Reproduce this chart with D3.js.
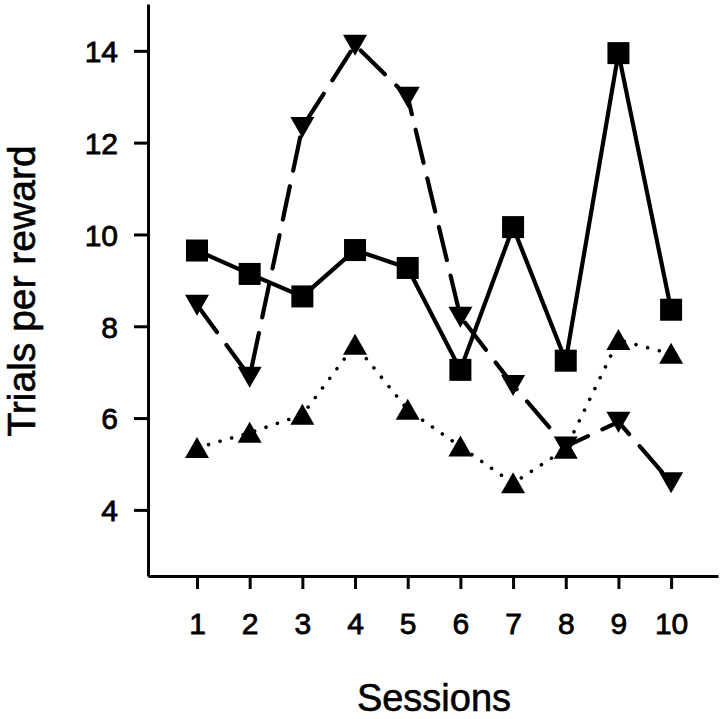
<!DOCTYPE html>
<html>
<head>
<meta charset="utf-8">
<script src="https://cdn.jsdelivr.net/npm/d3@7"></script>
<style>
  html, body { margin: 0; padding: 0; background: #fff; }
  svg { display: block; }
  text { font-family: "Liberation Sans", Arial, Helvetica, sans-serif; fill: #000; }
</style>
</head>
<body>
<svg id="chart" width="720" height="719"></svg>
<script>
const sessions = [1, 2, 3, 4, 5, 6, 7, 8, 9, 10];
const squareSeries = [9.65, 9.14, 8.65, 9.66, 9.27, 7.05, 10.16, 7.25, 13.95, 8.36];
const downTriangleSeries = [8.47, 6.9, 12.34, 14.13, 13.0, 8.21, 6.72, 5.38, 5.92, 4.6];
const upTriangleSeries = [5.35, 5.68, 6.07, 7.6, 6.18, 5.38, 4.58, 5.33, 7.7, 7.4];
const yTicks = [4, 6, 8, 10, 12, 14];
const xTicks = sessions;
const xLabel = "Sessions";
const yLabel = "Trials per reward";

const svg = d3.select("#chart");
const x = d3.scaleLinear().domain([0.07, 10.89]).range([148, 718]);
const y = d3.scaleLinear().domain([2.56, 15.02]).range([576, 4]);

// axes
const yAxis = svg.append("g")
  .attr("transform", "translate(148,0)")
  .call(d3.axisLeft(y).tickValues(yTicks).tickSize(14).tickSizeOuter(0).tickPadding(16).tickFormat(d3.format("d")));
const xAxis = svg.append("g")
  .attr("transform", "translate(0,576)")
  .call(d3.axisBottom(x).tickValues(xTicks).tickSize(13).tickSizeOuter(0).tickPadding(23).tickFormat(d3.format("d")));

[yAxis, xAxis].forEach(g => {
  g.select(".domain").attr("stroke", "#000").attr("stroke-width", 3);
  g.selectAll(".tick line").attr("stroke", "#000").attr("stroke-width", 3);
  g.selectAll(".tick text").style("font-size", "30px").attr("fill", "#000")
    .attr("stroke", "#000").attr("stroke-width", 0.8)
    .style("font-family", '"Liberation Sans", Arial, sans-serif');
});
yAxis.selectAll(".tick text").attr("dy", "0.36em");
xAxis.selectAll(".tick text").attr("dy", "0.72em");

// axis titles
svg.append("text")
  .attr("x", 434).attr("y", 711)
  .attr("text-anchor", "middle")
  .attr("stroke", "#000").attr("stroke-width", 0.6)
  .style("font-size", "38px")
  .text(xLabel);
svg.append("text")
  .attr("transform", "translate(35,291) rotate(-90)")
  .attr("text-anchor", "middle")
  .attr("stroke", "#000").attr("stroke-width", 0.6)
  .style("font-size", "39px")
  .text(yLabel);

const line = d3.line().x(d => x(d[0])).y(d => y(d[1]));
const zip = vals => sessions.map((s, i) => [s, vals[i]]);

// lines
svg.append("path").datum(zip(upTriangleSeries))
  .attr("d", line).attr("fill", "none").attr("stroke", "#000")
  .attr("stroke-width", 3.6).attr("stroke-linecap", "round")
  .attr("stroke-dasharray", "0.01 12");
svg.append("path").datum(zip(downTriangleSeries))
  .attr("d", line).attr("fill", "none").attr("stroke", "#000")
  .attr("stroke-width", 4.2).attr("stroke-linecap", "round")
  .attr("stroke-dasharray", "34 16");
svg.append("path").datum(zip(squareSeries))
  .attr("d", line).attr("fill", "none").attr("stroke", "#000")
  .attr("stroke-width", 4.2);

// markers
const sq = 22;
svg.append("g").selectAll("rect").data(zip(squareSeries)).join("rect")
  .attr("x", d => x(d[0]) - sq / 2).attr("y", d => y(d[1]) - sq / 2)
  .attr("width", sq).attr("height", sq).attr("fill", "#000");

const downTri = "M-12,-10L12,-10L0,11Z";
const upTri = "M-12,10L12,10L0,-11Z";
svg.append("g").selectAll("path").data(zip(downTriangleSeries)).join("path")
  .attr("transform", d => `translate(${x(d[0])},${y(d[1])})`)
  .attr("d", downTri).attr("fill", "#000");
svg.append("g").selectAll("path").data(zip(upTriangleSeries)).join("path")
  .attr("transform", d => `translate(${x(d[0])},${y(d[1])})`)
  .attr("d", upTri).attr("fill", "#000");
</script>
</body>
</html>
